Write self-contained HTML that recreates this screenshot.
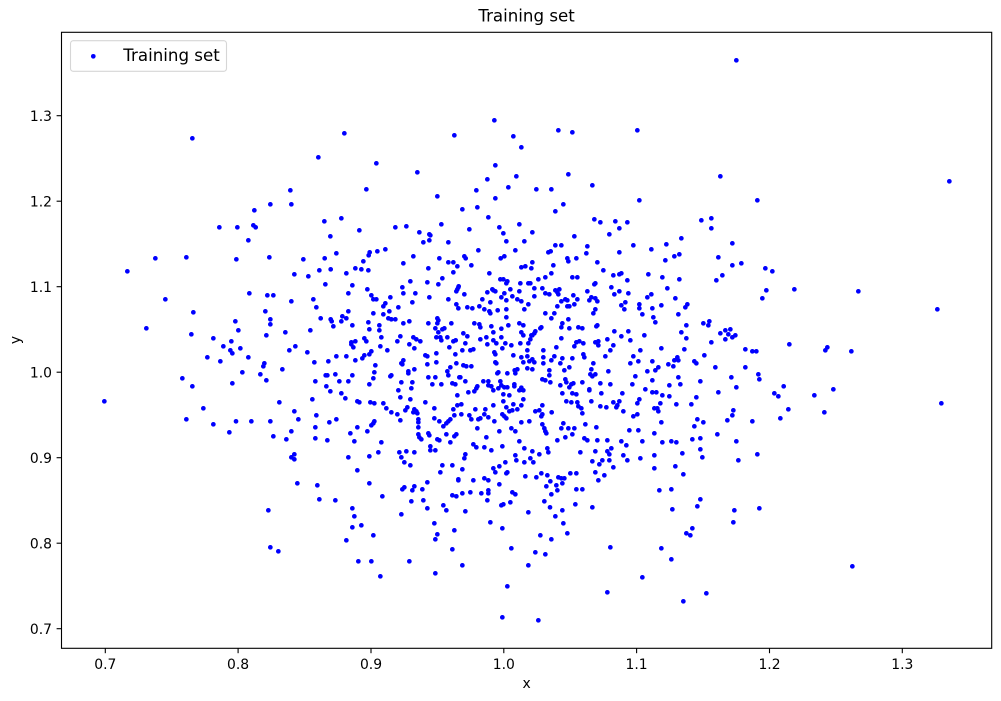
<!DOCTYPE html>
<html><head><meta charset="utf-8"><style>
html,body{margin:0;padding:0;background:#fff;}
svg{display:block;}
text{font-family:"DejaVu Sans","Liberation Sans",sans-serif;fill:#000;}
.d{fill:none;stroke:#0000ff;stroke-width:14;stroke-linecap:round;}
</style></head><body>
<svg width="1001" height="701" viewBox="0 0 1001 701" xmlns="http://www.w3.org/2000/svg">
<rect width="1001" height="701" fill="#fff"/>
<text x="526.6" y="21.5" font-size="16.67" text-anchor="middle">Training set</text>
<g>
<path class="d" transform="translate(62,100) scale(0.33333)" d="M391 115h.1M769 172h.1M685 271h.1M625 313h.1M688 313h.1M577 331h.1M472 382h.1M526 382h.1M574 376h.1M581 382h.1M559 421h.1M280 475h.1M373 472h.1M523 478h.1M622 472h.1M724 478h.1M196 514h.1M697 523h.1M739 529h.1M772 511h.1M562 580h.1M616 586h.1M634 586h.1M688 604h.1M754 598h.1M763 622h.1M310 598h.1M394 637h.1M610 634h.1M625 658h.1M625 673h.1M520 664h.1M529 691h.1M776 655h.1M253 685h.1M388 703h.1M454 715h.1M508 724h.1M484 739h.1M505 751h.1M511 760h.1M535 745h.1M613 706h.1M670 697h.1M745 691h.1M682 751h.1M700 739h.1M736 757h.1M757 787h.1M436 772h.1M475 784h.1M559 772h.1M607 790h.1M604 799h.1M661 808h.1"/>
<path class="d" transform="translate(62,370) scale(0.33333)" d="M361 25h.1M391 49h.1M541 7h.1M595 13h.1M613 31h.1M511 40h.1M760 34h.1M127 94h.1M424 115h.1M652 97h.1M751 88h.1M697 124h.1M763 136h.1M373 148h.1M454 163h.1M522 154h.1M568 154h.1M625 154h.1M709 148h.1M502 187h.1M634 199h.1M688 184h.1M673 208h.1M760 172h.1M760 205h.1M697 253h.1M688 262h.1M697 268h.1M706 340h.1M766 346h.1M772 388h.1M619 421h.1M625 532h.1M649 544h.1"/>
<path class="d" transform="translate(322,32) scale(0.33333)" d="M1243 85h.1M517 265h.1M67 304h.1M397 310h.1M574 313h.1M598 346h.1M709 295h.1M751 301h.1M946 295h.1M163 394h.1M286 421h.1M520 400h.1M496 442h.1M583 433h.1M739 427h.1M1195 433h.1M133 472h.1M346 493h.1M463 475h.1M559 466h.1M643 472h.1M688 472h.1M811 460h.1M952 505h.1M1306 505h.1M520 499h.1M421 532h.1M466 526h.1M724 517h.1M700 538h.1M7 568h.1M58 559h.1M25 613h.1M112 595h.1M220 586h.1M253 583h.1M292 601h.1M322 607h.1M325 610h.1M358 577h.1M442 592h.1M499 556h.1M532 586h.1M544 604h.1M592 577h.1M631 601h.1M757 613h.1M817 562h.1M835 571h.1M862 607h.1M880 568h.1M892 589h.1M916 571h.1M1078 619h.1M1138 565h.1M1168 559h.1M1168 589h.1"/>
<path class="d" transform="translate(782,32) scale(0.33333)" d="M502 448h.1M37 772h.1M229 778h.1M466 832h.1"/>
<path class="d" transform="translate(782,340) scale(0.33333)" d="M22 13h.1M130 31h.1M136 22h.1M208 34h.1M5 139h.1M97 166h.1M154 148h.1M478 190h.1M19 208h.1M127 217h.1M211 679h.1"/>
<path class="d" transform="translate(322,238) scale(0.33333)" d="M304 13h.1M322 7h.1M379 13h.1M553 10h.1M607 10h.1M43 46h.1M143 43h.1M140 52h.1M166 40h.1M190 34h.1M469 37h.1M580 37h.1M679 43h.1M686 40h.1M8 61h.1M124 70h.1M274 55h.1M352 61h.1M427 55h.1M431 61h.1M536 61h.1M547 55h.1M244 76h.1M379 73h.1M394 73h.1M406 85h.1M448 82h.1M610 85h.1M598 88h.1M631 73h.1M628 91h.1M26 94h.1M100 91h.1M118 94h.1M139 97h.1M319 91h.1M394 103h.1M73 106h.1M502 106h.1M688 106h.1M670 118h.1M361 121h.1M10 139h.1M91 142h.1M265 130h.1M316 133h.1M349 139h.1M410 145h.1M535 124h.1M544 124h.1M556 130h.1M553 136h.1M595 136h.1M619 136h.1M625 136h.1M649 124h.1M136 154h.1M241 148h.1M280 166h.1M244 166h.1M322 178h.1M406 154h.1M409 148h.1M403 160h.1M427 169h.1M496 163h.1M511 154h.1M520 160h.1M514 157h.1M547 166h.1M565 154h.1M592 160h.1M637 151h.1M661 151h.1M670 166h.1M682 169h.1M79 166h.1M148 172h.1M154 184h.1M163 184h.1M205 178h.1M379 184h.1M481 184h.1M505 193h.1M538 178h.1M553 187h.1M571 175h.1M586 184h.1M598 190h.1M619 199h.1M637 175h.1M190 196h.1M184 205h.1M229 208h.1M271 193h.1M403 199h.1M409 211h.1M436 208h.1M451 211h.1M472 205h.1M487 214h.1M502 220h.1M505 226h.1M527 217h.1M553 214h.1M607 214h.1M670 226h.1M697 226h.1M79 220h.1M73 241h.1M61 235h.1M58 250h.1M26 244h.1M29 250h.1M34 265h.1M91 262h.1M154 226h.1M184 229h.1M202 220h.1M199 241h.1M208 244h.1M220 244h.1M139 253h.1M244 256h.1M262 250h.1M319 256h.1M346 241h.1M349 247h.1M346 256h.1M388 256h.1M457 256h.1M472 259h.1M475 268h.1M508 265h.1M538 272h.1M553 238h.1M592 256h.1M514 283h.1M559 262h.1M604 262h.1M598 283h.1M604 292h.1M640 280h.1M628 292h.1M658 268h.1M655 271h.1M688 241h.1M172 262h.1M172 277h.1M142 274h.1M361 274h.1M340 271h.1M349 283h.1M367 271h.1M178 298h.1M235 295h.1M274 298h.1M283 304h.1M295 310h.1M226 310h.1M262 319h.1M343 298h.1M355 298h.1M358 307h.1M376 298h.1M394 310h.1M401 307h.1M424 286h.1M436 295h.1M430 316h.1M475 304h.1M493 298h.1M514 307h.1M496 319h.1M523 316h.1M538 298h.1M550 316h.1M568 322h.1M595 316h.1M619 316h.1M625 304h.1M631 292h.1M637 286h.1M100 310h.1M88 313h.1M94 328h.1M88 319h.1M127 301h.1M133 310h.1M175 325h.1M196 337h.1M277 331h.1M382 328h.1M421 337h.1M454 334h.1M445 337h.1M517 343h.1M520 349h.1M541 331h.1M616 337h.1M664 337h.1M43 355h.1M73 355h.1M19 370h.1M100 367h.1M121 361h.1M127 352h.1M142 349h.1M148 340h.1M160 382h.1M244 367h.1M241 379h.1M238 376h.1M310 352h.1M316 355h.1M343 346h.1M343 373h.1M316 379h.1M400 349h.1M403 376h.1M385 388h.1M424 382h.1M433 385h.1M448 385h.1M520 373h.1M523 376h.1M574 352h.1M598 358h.1M616 355h.1M631 364h.1M604 373h.1M622 370h.1M637 373h.1M664 358h.1M664 376h.1M688 367h.1M616 391h.1M631 394h.1M586 394h.1M578 397h.1M580 406h.1M11 412h.1M16 412h.1M40 409h.1M91 412h.1M157 403h.1M154 421h.1M208 412h.1M205 415h.1M259 400h.1M259 406h.1M277 394h.1M319 418h.1M340 418h.1M376 400h.1M379 412h.1M412 418h.1M415 418h.1M529 403h.1M526 406h.1M556 406h.1M682 397h.1M682 412h.1M661 424h.1M670 427h.1M685 433h.1M13 445h.1M52 430h.1M79 430h.1M142 439h.1M238 433h.1M271 433h.1M331 439h.1M358 439h.1M391 436h.1M400 439h.1M430 430h.1M466 445h.1M484 430h.1M499 430h.1M499 442h.1M508 445h.1M514 457h.1M535 430h.1M538 442h.1M529 451h.1M547 448h.1M556 448h.1M577 439h.1M577 445h.1M598 449h.1M604 457h.1M592 457h.1M25 460h.1M58 466h.1M70 481h.1M229 457h.1M268 451h.1M406 472h.1M439 463h.1M457 460h.1M463 451h.1M544 469h.1M562 472h.1M106 490h.1M112 493h.1M145 493h.1M157 496h.1M184 496h.1M235 478h.1M265 484h.1M310 493h.1M406 502h.1M418 499h.1M544 490h.1M574 499h.1M604 484h.1M661 502h.1M193 511h.1M208 523h.1M226 529h.1M250 517h.1M256 508h.1M277 514h.1M283 520h.1M286 526h.1M274 523h.1M337 511h.1M394 514h.1M418 529h.1M460 514h.1M490 514h.1M514 502h.1M553 508h.1M562 520h.1M571 517h.1M586 514h.1M598 502h.1M640 520h.1M652 517h.1M661 529h.1M689 523h.1M22 553h.1M43 544h.1M235 547h.1M289 544h.1M289 553h.1M337 541h.1M352 550h.1M379 550h.1M385 544h.1M373 556h.1M397 532h.1M442 532h.1M448 544h.1M469 544h.1M475 541h.1M487 529h.1M499 538h.1M517 550h.1M541 529h.1M547 535h.1M553 541h.1M598 553h.1M622 550h.1M658 535h.1M661 559h.1M157 550h.1M154 556h.1M148 562h.1M106 568h.1M85 586h.1M136 580h.1M289 568h.1M289 589h.1M319 586h.1M322 592h.1M364 565h.1M373 589h.1M397 595h.1M403 589h.1M466 571h.1M493 598h.1M532 580h.1M568 571h.1M580 580h.1M667 571h.1M670 580h.1M673 586h.1M16 607h.1M97 610h.1M178 613h.1M292 598h.1M298 604h.1M346 604h.1M352 607h.1M385 613h.1M592 610h.1"/>
<path class="d" transform="translate(552,238) scale(0.33333)" d="M10 22h.1M28 22h.1M106 25h.1M244 22h.1M343 19h.1M541 16h.1M103 46h.1M202 43h.1M298 34h.1M367 55h.1M382 49h.1M46 61h.1M49 70h.1M73 61h.1M136 73h.1M340 67h.1M499 58h.1M568 76h.1M541 82h.1M4 82h.1M154 97h.1M184 112h.1M202 109h.1M208 106h.1M226 127h.1M289 109h.1M331 118h.1M382 124h.1M511 112h.1M493 127h.1M640 91h.1M661 100h.1M61 118h.1M76 118h.1M127 139h.1M130 136h.1M10 157h.1M22 154h.1M16 163h.1M19 169h.1M106 160h.1M178 148h.1M202 160h.1M187 169h.1M229 166h.1M298 169h.1M286 178h.1M346 151h.1M643 157h.1M631 181h.1M64 172h.1M28 190h.1M40 184h.1M46 187h.1M76 184h.1M112 187h.1M118 178h.1M130 181h.1M136 190h.1M16 205h.1M46 205h.1M52 205h.1M67 199h.1M124 226h.1M130 214h.1M208 202h.1M220 193h.1M217 214h.1M262 199h.1M262 211h.1M301 211h.1M328 202h.1M370 181h.1M406 199h.1M400 208h.1M271 229h.1M304 238h.1M379 229h.1M49 244h.1M31 256h.1M28 268h.1M52 271h.1M79 268h.1M91 271h.1M133 265h.1M136 262h.1M310 253h.1M403 262h.1M454 256h.1M469 262h.1M472 250h.1M187 280h.1M229 280h.1M208 295h.1M277 292h.1M388 283h.1M505 286h.1M520 277h.1M535 274h.1M529 289h.1M541 298h.1M550 292h.1M520 304h.1M403 301h.1M28 301h.1M166 304h.1M235 307h.1M478 313h.1M82 310h.1M73 313h.1M94 316h.1M67 325h.1M130 313h.1M139 310h.1M139 322h.1M184 322h.1M13 328h.1M175 337h.1M265 337h.1M328 331h.1M397 334h.1M580 334h.1M601 340h.1M613 340h.1M7 355h.1M31 361h.1M61 361h.1M94 349h.1M97 358h.1M160 355h.1M244 355h.1M259 370h.1M301 370h.1M376 358h.1M367 367h.1M379 367h.1M349 379h.1M364 385h.1M427 370h.1M433 376h.1M457 352h.1M490 388h.1M580 388h.1M25 376h.1M52 388h.1M124 376h.1M235 376h.1M319 388h.1M310 397h.1M118 394h.1M37 397h.1M169 400h.1M286 400h.1M619 409h.1M622 424h.1M115 409h.1M121 415h.1M130 409h.1M250 415h.1M301 427h.1M379 418h.1M538 418h.1M40 424h.1M43 433h.1M25 442h.1M58 439h.1M64 436h.1M52 448h.1M91 433h.1M145 436h.1M175 439h.1M241 439h.1M352 442h.1M385 439h.1M445 430h.1M553 448h.1M31 466h.1M61 466h.1M73 469h.1M112 457h.1M112 454h.1M148 466h.1M211 466h.1M280 454h.1M301 463h.1M313 463h.1M331 472h.1M352 475h.1M433 478h.1M499 463h.1M667 466h.1M679 475h.1M43 490h.1M58 493h.1M76 493h.1M79 505h.1M88 511h.1M91 526h.1M118 490h.1M145 505h.1M163 508h.1M184 493h.1M196 502h.1M193 508h.1M202 490h.1M214 520h.1M256 496h.1M262 484h.1M244 535h.1M256 529h.1M307 511h.1M316 511h.1M319 520h.1M325 496h.1M373 499h.1M418 499h.1M544 517h.1M541 532h.1M34 556h.1M28 571h.1M49 571h.1M67 571h.1M100 559h.1M133 568h.1M232 577h.1M259 577h.1M328 553h.1M307 586h.1M436 544h.1M427 565h.1M454 553h.1M526 547h.1M601 550h.1M685 541h.1M40 598h.1M61 589h.1M16 607h.1M97 601h.1M106 607h.1M136 607h.1M166 607h.1M208 610h.1M271 610h.1M331 613h.1M358 610h.1M373 613h.1M421 604h.1M445 601h.1M496 589h.1M553 610h.1"/>
<path class="d" transform="translate(322,443) scale(0.33333)" d="M454 4h.1M463 13h.1M487 13h.1M508 22h.1M541 10h.1M607 16h.1M631 25h.1M676 16h.1M679 28h.1M79 43h.1M142 40h.1M169 28h.1M232 28h.1M253 25h.1M277 28h.1M238 43h.1M247 58h.1M265 67h.1M325 10h.1M325 22h.1M340 22h.1M430 34h.1M427 46h.1M580 37h.1M583 52h.1M607 58h.1M625 46h.1M634 58h.1M652 34h.1M106 82h.1M361 67h.1M391 67h.1M421 79h.1M355 88h.1M514 76h.1M520 88h.1M532 70h.1M550 58h.1M553 91h.1M556 88h.1M610 100h.1M643 103h.1M658 91h.1M676 97h.1M685 115h.1M673 130h.1M142 121h.1M241 139h.1M247 133h.1M271 142h.1M277 130h.1M301 139h.1M316 118h.1M409 109h.1M409 112h.1M454 112h.1M487 106h.1M499 112h.1M532 124h.1M40 172h.1M181 160h.1M268 175h.1M304 172h.1M391 157h.1M403 160h.1M421 151h.1M445 148h.1M478 151h.1M499 142h.1M499 151h.1M496 172h.1M571 148h.1M580 154h.1M565 178h.1M538 187h.1M544 184h.1M667 175h.1M688 154h.1M684 193h.1M91 196h.1M97 220h.1M238 214h.1M316 196h.1M364 187h.1M373 202h.1M430 205h.1M619 208h.1M91 253h.1M118 247h.1M73 292h.1M154 277h.1M337 241h.1M346 274h.1M340 289h.1M397 262h.1M505 238h.1M541 256h.1M655 277h.1M688 289h.1M391 319h.1M568 316h.1M640 328h.1M670 334h.1M109 355h.1M148 355h.1M262 355h.1M421 367h.1M619 367h.1M175 400h.1M340 391h.1M556 430h.1M541 523h.1M649 532h.1"/>
<path class="d" transform="translate(552,443) scale(0.33333)" d="M130 25h.1M166 25h.1M172 34h.1M178 16h.1M223 7h.1M445 19h.1M85 28h.1M121 55h.1M142 64h.1M151 52h.1M172 52h.1M214 37h.1M226 52h.1M265 46h.1M307 37h.1M391 31h.1M451 43h.1M559 52h.1M616 34h.1M184 73h.1M307 76h.1M370 70h.1M55 91h.1M73 91h.1M130 88h.1M157 97h.1M139 112h.1M394 94h.1M19 103h.1M28 106h.1M37 106h.1M31 121h.1M13 127h.1M16 142h.1M73 139h.1M91 139h.1M322 142h.1M358 139h.1M70 184h.1M121 193h.1M31 202h.1M10 220h.1M361 199h.1M436 190h.1M445 169h.1M547 202h.1M622 196h.1M544 238h.1M34 241h.1M46 271h.1M403 271h.1M415 277h.1M421 256h.1M175 313h.1M328 316h.1M358 349h.1M271 403h.1M166 448h.1M463 451h.1M394 475h.1"/>
</g>
<rect x="61.5" y="32.3" width="930.2" height="616" fill="none" stroke="#000" stroke-width="1.1"/>
<g stroke="#000" stroke-width="1.1">
<line x1="105.3" y1="648.3" x2="105.3" y2="653.2"/>
<line x1="238.1" y1="648.3" x2="238.1" y2="653.2"/>
<line x1="371.0" y1="648.3" x2="371.0" y2="653.2"/>
<line x1="503.8" y1="648.3" x2="503.8" y2="653.2"/>
<line x1="636.6" y1="648.3" x2="636.6" y2="653.2"/>
<line x1="769.5" y1="648.3" x2="769.5" y2="653.2"/>
<line x1="902.3" y1="648.3" x2="902.3" y2="653.2"/>
<line x1="56.6" y1="115.7" x2="61.5" y2="115.7"/>
<line x1="56.6" y1="201.2" x2="61.5" y2="201.2"/>
<line x1="56.6" y1="286.7" x2="61.5" y2="286.7"/>
<line x1="56.6" y1="372.2" x2="61.5" y2="372.2"/>
<line x1="56.6" y1="457.7" x2="61.5" y2="457.7"/>
<line x1="56.6" y1="543.2" x2="61.5" y2="543.2"/>
<line x1="56.6" y1="628.7" x2="61.5" y2="628.7"/>
</g>
<g font-size="13.9" text-anchor="middle">
<text x="105.3" y="669">0.7</text>
<text x="238.1" y="669">0.8</text>
<text x="371.0" y="669">0.9</text>
<text x="503.8" y="669">1.0</text>
<text x="636.6" y="669">1.1</text>
<text x="769.5" y="669">1.2</text>
<text x="902.3" y="669">1.3</text>
</g>
<g font-size="13.9" text-anchor="end">
<text x="52" y="120.8">1.3</text>
<text x="52" y="206.3">1.2</text>
<text x="52" y="291.8">1.1</text>
<text x="52" y="377.3">1.0</text>
<text x="52" y="462.8">0.9</text>
<text x="52" y="548.3">0.8</text>
<text x="52" y="633.8">0.7</text>
</g>
<text x="526.6" y="688" font-size="13.9" text-anchor="middle">x</text>
<text transform="translate(20,340) rotate(-90)" font-size="13.9" text-anchor="middle">y</text>
<rect x="70.5" y="40.7" width="156" height="30.6" rx="2.8" ry="2.8" fill="#fff" fill-opacity="0.8" stroke="#d6d6d6" stroke-width="1.1"/>
<circle cx="93.3" cy="56.3" r="2.35" fill="#0000ff"/>
<text x="123.3" y="61" font-size="16.67">Training set</text>
</svg>
</body></html>
